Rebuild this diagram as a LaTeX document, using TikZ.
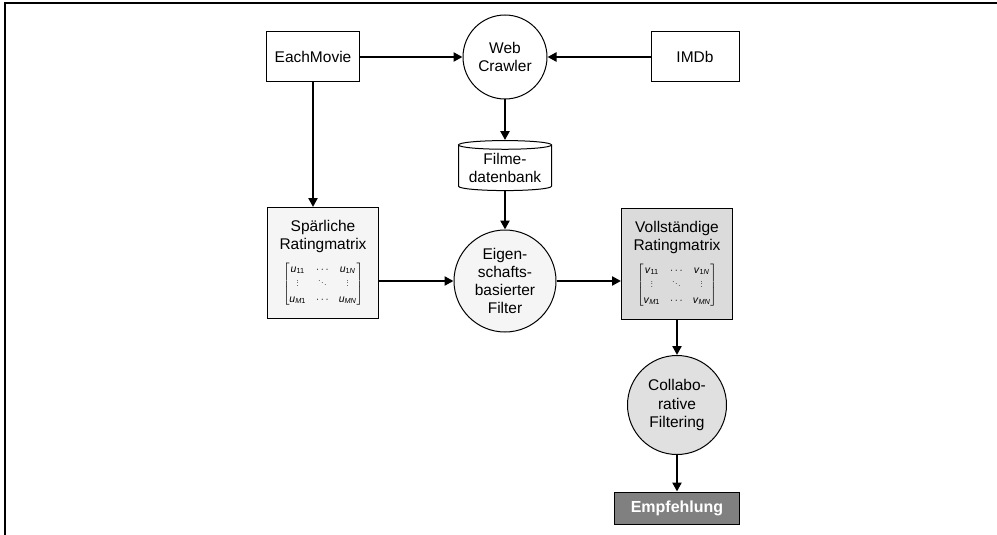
\documentclass[tikz,border=0pt]{standalone}
\usepackage{fontspec}
\setmainfont{Liberation Sans}
\usetikzlibrary{arrows.meta,shapes.geometric}
\newcommand{\vd}{\raisebox{2pt}{\scalebox{0.7}{$\vdots$}}}
\newcommand{\mtx}[1]{\fontsize{10.5}{12}\selectfont$\left[\vcenter{\hbox{\setlength{\tabcolsep}{0pt}\renewcommand{\arraystretch}{1.12}\begin{tabular}{c@{\hspace{10pt}}c@{\hspace{10pt}}c}
\textit{#1}\textsubscript{11} & $\cdots$ & \textit{#1}\textsubscript{1\textit{N}}\\
\vd & \raisebox{2pt}{\scalebox{0.7}{$\ddots$}} & \vd\\
\textit{#1}\textsubscript{\textit{M}1} & $\cdots$ & \textit{#1}\textsubscript{\textit{MN}}
\end{tabular}}}\right]$}
\tikzset{
  base/.style={draw=black, line width=1pt, align=center, inner sep=0pt,
    font=\fontsize{15.5}{18.3}\selectfont},
  src/.style={base, rectangle, minimum width=93pt, minimum height=50pt, fill=white},
  proc/.style={base, circle},
  mat/.style={base, rectangle, minimum width=111pt, minimum height=111pt},
  flow/.style={line width=2.3pt, -{Triangle[length=9pt,width=9pt]}},
  frame/.style={line width=1.5pt}
}
\begin{document}
\begin{tikzpicture}[x=1pt,y=-1pt]
\useasboundingbox (0,0) rectangle (997,535);
\draw[frame] (5,535) -- (5,3) -- (997,3);

\node[src] (em) at (313,57) {EachMovie};
\node[proc, minimum size=84pt, fill=white] (wc) at (505,57) {Web\\Crawler};
\node[src, minimum width=88pt] (imdb) at (695,57) {IMDb};
\node[base, cylinder, shape border rotate=90, aspect=0.12, minimum width=93pt, minimum height=50pt, fill=white] (db) at (505,168) {Filme-\\datenbank};
\node[mat, fill=black!4] (spa) at (323,263) {Spärliche\\Ratingmatrix\\[9pt]\mtx{u}};
\node[proc, minimum size=102pt, fill=black!4] (eig) at (505,281) {Eigen-\\schafts-\\basierter\\Filter};
\node[mat, fill=black!14] (vol) at (677,264) {Vollständige\\Ratingmatrix\\[9pt]\mtx{v}};
\node[proc, minimum size=99pt, fill=black!12] (cf) at (677,405) {Collabo-\\rative\\Filtering};
\node[base, rectangle, minimum width=125pt, minimum height=32pt, fill=black!50, text=white, font=\fontsize{16}{18}\selectfont\bfseries] (emp) at (677,508) {Empfehlung};

\draw[flow] (em.east) -- (wc.west);
\draw[flow] (imdb.west) -- (wc.east);
\draw[flow] (wc.south) -- (wc.south |- db.north);
\draw[flow] (db.south) -- (db.south |- eig.north);
\draw[flow] (em.south) -- (em.south |- spa.north);
\draw[flow] (spa.east |- eig.west) -- (eig.west);
\draw[flow] (eig.east) -- (vol.west |- eig.east);
\draw[flow] (vol.south) -- (vol.south |- cf.north);
\draw[flow] (cf.south) -- (cf.south |- emp.north);
\end{tikzpicture}
\end{document}
